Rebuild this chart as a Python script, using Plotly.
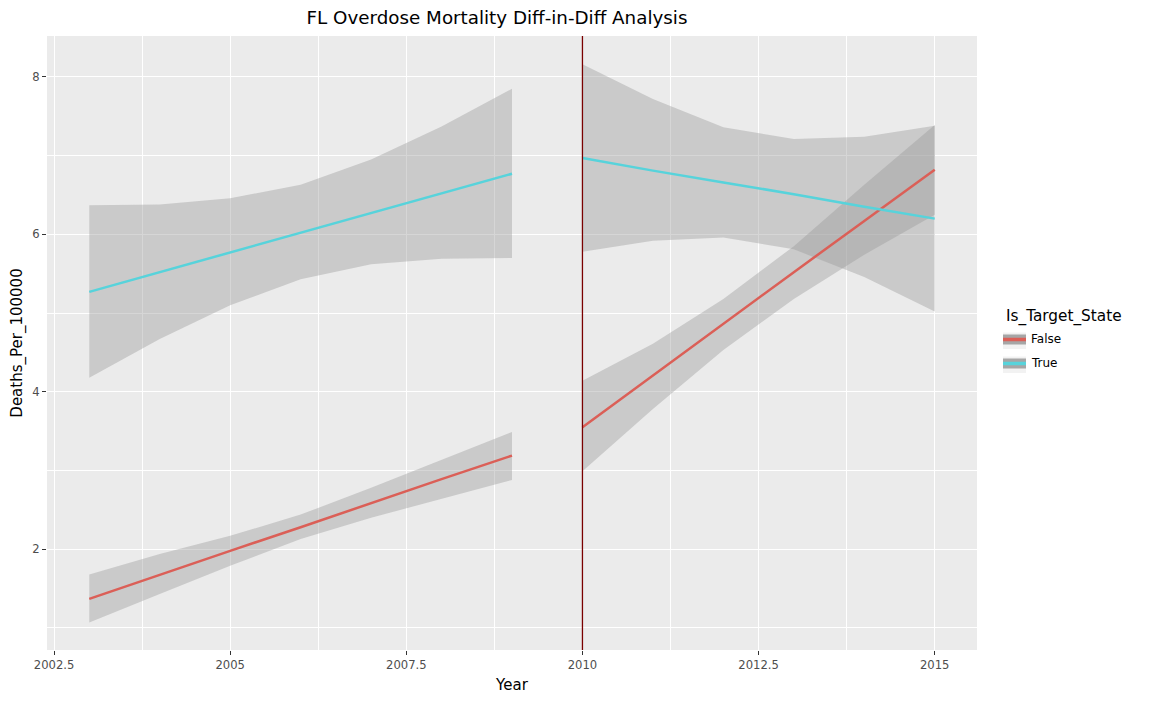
#!/usr/bin/env python3
"""
FL overdose mortality, difference-in-differences view.
Linear fits with confidence bands, before and after the 2010 policy year.
"""
import plotly.graph_objects as go

# years on each side of the policy change
years_pre = [2003, 2004, 2005, 2006, 2007, 2008, 2009]
years_post = [2010, 2011, 2012, 2013, 2014, 2015]
policy_year = 2010

# fitted lines (deaths per 100000)
fit_pre_false = [1.37, 1.68, 1.98, 2.28, 2.59, 2.89, 3.19]
fit_pre_true = [5.27, 5.52, 5.77, 6.02, 6.27, 6.52, 6.77]
fit_post_false = [3.55, 4.21, 4.86, 5.52, 6.17, 6.82]
fit_post_true = [6.97, 6.81, 6.66, 6.51, 6.35, 6.20]

# confidence bands
upper_pre_false = [1.68, 1.94, 2.17, 2.44, 2.78, 3.14, 3.49]
lower_pre_false = [1.07, 1.43, 1.79, 2.13, 2.40, 2.64, 2.88]
upper_pre_true = [6.37, 6.38, 6.46, 6.63, 6.95, 7.37, 7.85]
lower_pre_true = [4.18, 4.67, 5.10, 5.43, 5.62, 5.69, 5.70]
upper_post_false = [4.14, 4.61, 5.18, 5.85, 6.63, 7.39]
lower_post_false = [2.99, 3.78, 4.53, 5.18, 5.74, 6.25]
upper_post_true = [8.16, 7.72, 7.36, 7.21, 7.24, 7.38]
lower_post_true = [5.78, 5.92, 5.96, 5.81, 5.46, 5.02]

groups = ["False", "True"]
x_ticks = [2002.5, 2005, 2007.5, 2010, 2012.5, 2015]
x_tick_text = ["2002.5", "2005", "2007.5", "2010", "2012.5", "2015"]
y_ticks = [2, 4, 6, 8]

colors = {"False": "#db5f57", "True": "#57d3db"}
band_fill = "rgba(153,153,153,0.4)"
font_family = "DejaVu Sans, Liberation Sans, sans-serif"

# page body has an 8px margin, so the figure is offset by that much
W, H = 1149, 703
OFF = 8
PLOT_L, PLOT_R, PLOT_T, PLOT_B = 47, 977, 36, 650


def px2x(px):
    return (px - PLOT_L) / (PLOT_R - PLOT_L)


def py2y(py):
    return (PLOT_B - py) / (PLOT_B - PLOT_T)


fig = go.Figure()

segments = [
    ("False", years_pre, fit_pre_false, upper_pre_false, lower_pre_false),
    ("True", years_pre, fit_pre_true, upper_pre_true, lower_pre_true),
    ("False", years_post, fit_post_false, upper_post_false, lower_post_false),
    ("True", years_post, fit_post_true, upper_post_true, lower_post_true),
]

# bands first so the lines sit on top
for group, years, fit, upper, lower in segments:
    fig.add_trace(go.Scatter(
        x=years + years[::-1], y=upper + lower[::-1],
        fill="toself", fillcolor=band_fill, mode="lines",
        line=dict(width=0), hoverinfo="skip", showlegend=False,
    ))

for group, years, fit, upper, lower in segments:
    fig.add_trace(go.Scatter(
        x=years, y=fit, mode="lines", name=group,
        line=dict(color=colors[group], width=2.5), showlegend=False,
    ))

fig.add_shape(type="line", x0=policy_year, x1=policy_year, y0=0, y1=1,
              xref="x", yref="paper", line=dict(color="#7a0000", width=1.3))

# hand-drawn legend, ggplot style keys (grey band behind a coloured line)
fig.add_annotation(text="Is_Target_State", xref="paper", yref="paper",
                   x=px2x(1004), y=py2y(316), xanchor="left", yanchor="middle",
                   showarrow=False, font=dict(size=15.3, color="black"))
for i, group in enumerate(groups):
    cy = 340 + 24 * i
    fig.add_shape(type="rect", xref="paper", yref="paper",
                  x0=px2x(1003), x1=px2x(1026), y0=py2y(cy - 7.5), y1=py2y(cy + 9),
                  fillcolor="#f2f2f2", line=dict(width=0), layer="above")
    fig.add_shape(type="rect", xref="paper", yref="paper",
                  x0=px2x(1003), x1=px2x(1026), y0=py2y(cy - 5.5), y1=py2y(cy + 4.5),
                  fillcolor="#a6a6a6", line=dict(width=0), layer="above")
    fig.add_shape(type="line", xref="paper", yref="paper",
                  x0=px2x(1003), x1=px2x(1026), y0=py2y(cy - 0.5), y1=py2y(cy - 0.5),
                  line=dict(color=colors[group], width=3.5), layer="above")
    fig.add_annotation(text=group, xref="paper", yref="paper",
                       x=px2x(1029), y=py2y(cy - 1), xanchor="left", yanchor="middle",
                       showarrow=False, font=dict(size=12, color="black"))

axis_common = dict(
    showgrid=True, gridcolor="white", gridwidth=1.2, zeroline=False,
    ticks="outside", ticklen=4, tickcolor="#333333", showline=False,
    automargin=False,
    tickfont=dict(size=11.6, color="#4d4d4d", family=font_family),
    title_font=dict(size=15, color="black", family=font_family),
)

fig.update_xaxes(
    range=[2002.4, 2015.6], tickvals=x_ticks, ticktext=x_tick_text,
    title_text="Year", title_standoff=8,
    minor=dict(tick0=2002.5, dtick=1.25, showgrid=True, gridcolor="white", gridwidth=0.6),
    **axis_common,
)
fig.update_yaxes(
    range=[0.72, 8.52], tickvals=y_ticks, title_text="Deaths_Per_100000", title_standoff=6,
    minor=dict(tick0=1, dtick=1, showgrid=True, gridcolor="white", gridwidth=0.6),
    **axis_common,
)

fig.update_layout(
    width=W, height=H,
    margin=dict(l=PLOT_L - OFF, r=W - PLOT_R + OFF, t=PLOT_T - OFF, b=H - PLOT_B + OFF),
    plot_bgcolor="#ebebeb", paper_bgcolor="white",
    font=dict(family=font_family, color="black"),
    title=dict(text="FL Overdose Mortality Diff-in-Diff Analysis",
               x=(497 - OFF) / W, xref="container", xanchor="center",
               y=1 - (18 - OFF) / H, yref="container", yanchor="middle",
               font=dict(size=18.3, color="black", family=font_family)),
    showlegend=False,
    hovermode="closest",
)

fig.write_html("out.html")
